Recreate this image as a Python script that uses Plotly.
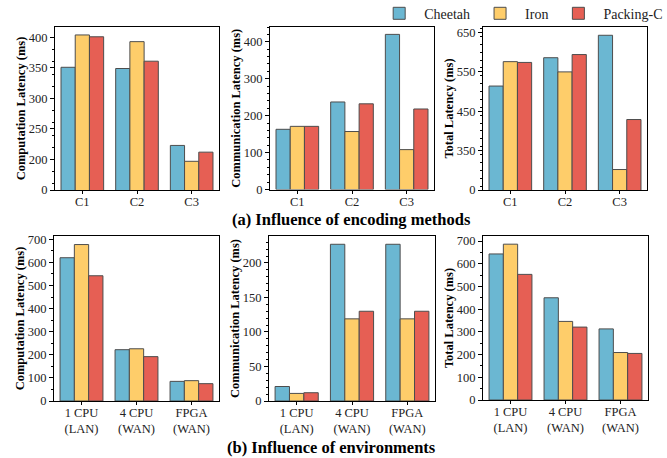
import plotly.graph_objects as go

# ---------------- data ----------------
series = ["Cheetah", "Iron", "Packing-C"]
colors = ["#6BB7D2", "#FECD6A", "#E65F54"]

enc_cats = ["C1", "C2", "C3"]
enc_comp = {"Cheetah": [351, 349, 223], "Iron": [404, 393, 197], "Packing-C": [401, 361, 212]}
enc_comm = {"Cheetah": [163, 237, 420], "Iron": [171, 157, 108], "Packing-C": [171, 232, 218]}
enc_total = {"Cheetah": [514, 586, 643], "Iron": [576, 550, 302], "Packing-C": [574, 594, 429]}

env_cats = ["1 CPU<br>(LAN)", "4 CPU<br>(WAN)", "FPGA<br>(WAN)"]
env_comp = {"Cheetah": [620, 222, 85], "Iron": [677, 226, 88], "Packing-C": [542, 192, 75]}
env_comm = {"Cheetah": [21, 227, 227], "Iron": [11, 119, 119], "Packing-C": [12, 130, 130]}
env_total = {"Cheetah": [643, 450, 313], "Iron": [686, 346, 209], "Packing-C": [553, 321, 205]}

# broken-axis tick labels (lowest tick shows "0")
comp_a_tickvals = [150, 200, 250, 300, 350, 400]
comp_a_ticktext = ["0", "200", "250", "300", "350", "400"]
total_a_tickvals = [250, 350, 450, 550, 650]
total_a_ticktext = ["0", "350", "450", "550", "650"]

W, H = 667, 458
FONT = "Liberation Serif"

panels = [
    (enc_cats, enc_comp, "Computation Latency (ms)", (55, 219), (27, 190), [150, 417], comp_a_tickvals, comp_a_ticktext),
    (enc_cats, enc_comm, "Communication Latency (ms)", (270, 434), (27, 189.5), [0, 440], [0, 100, 200, 300, 400], None),
    (enc_cats, enc_total, "Total Latency (ms)", (483, 647), (27, 190), [250, 664], total_a_tickvals, total_a_ticktext),
    (env_cats, env_comp, "Computation Latency (ms)", (54, 219), (236, 401), [0, 714], [0, 100, 200, 300, 400, 500, 600, 700], None),
    (env_cats, env_comm, "Communication Latency (ms)", (269, 435), (236, 401), [0, 239], [0, 50, 100, 150, 200], None),
    (env_cats, env_total, "Total Latency (ms)", (483, 648), (236, 400), [0, 722], [0, 100, 200, 300, 400, 500, 600, 700], None),
]

fig = go.Figure()
layout = {}
for i, (cats, data, ytitle, xd, yd, yr, tv, tt) in enumerate(panels):
    n = i + 1
    xa = "x" if n == 1 else f"x{n}"
    ya = "y" if n == 1 else f"y{n}"
    for s, c in zip(series, colors):
        fig.add_trace(go.Bar(
            x=cats, y=data[s], name=s, marker=dict(color=c, line=dict(color="#4D4D4D", width=1)),
            xaxis=xa, yaxis=ya, showlegend=(i == 0), legendgroup=s,
        ))
    xk = "xaxis" if n == 1 else f"xaxis{n}"
    yk = "yaxis" if n == 1 else f"yaxis{n}"
    layout[xk] = dict(
        domain=[xd[0] / W, xd[1] / W], anchor=ya, showline=True, mirror=True, automargin=False,
        linecolor="black", linewidth=1.2, ticks="outside", ticklen=3, tickcolor="black",
        tickfont=dict(family=FONT, size=12.5, color="#222"), showgrid=False,
        ticklabelstandoff=-3,
    )
    ydict = dict(
        domain=[1 - yd[1] / H, 1 - yd[0] / H], anchor=xa, range=yr, showline=True, mirror=True,
        automargin=False,
        linecolor="black", linewidth=1.2, ticks="outside", ticklen=4, tickcolor="black",
        tickfont=dict(family=FONT, size=12.5, color="#222"), showgrid=False, zeroline=False,
        tickvals=tv,
        title=dict(text=f"<b>{ytitle}</b>", font=dict(family=FONT, size=12.5, color="black"), standoff=0),
        minor=dict(ticks="outside", ticklen=2, tickcolor="black"),
    )
    if tt is not None:
        ydict["ticktext"] = tt
    layout[yk] = ydict

fig.update_layout(**layout)
fig.update_layout(
    width=W, height=H, margin=dict(l=0, r=0, t=0, b=0, autoexpand=False),
    plot_bgcolor="white", paper_bgcolor="white",
    barmode="group", bargap=0.22, bargroupgap=0,
    font=dict(family=FONT, color="black"),
    legend=dict(orientation="h", x=0.561, xanchor="left", y=1.005, yanchor="top",
                font=dict(family=FONT, size=14, color="#222"), bgcolor="rgba(0,0,0,0)",
                itemwidth=40, traceorder="normal"),
    annotations=[
        dict(text="<b>(a) Influence of encoding methods</b>", x=351 / W, y=1 - 219 / H,
             xref="paper", yref="paper", showarrow=False, xanchor="center", yanchor="middle",
             font=dict(family=FONT, size=16.5, color="black")),
        dict(text="<b>(b) Influence of environments</b>", x=331 / W, y=1 - 447 / H,
             xref="paper", yref="paper", showarrow=False, xanchor="center", yanchor="middle",
             font=dict(family=FONT, size=16.5, color="black")),
    ],
)

fig.write_html("out.html", config={"displayModeBar": False},
               post_script="document.body.style.margin='0';document.body.style.overflow='hidden';")
